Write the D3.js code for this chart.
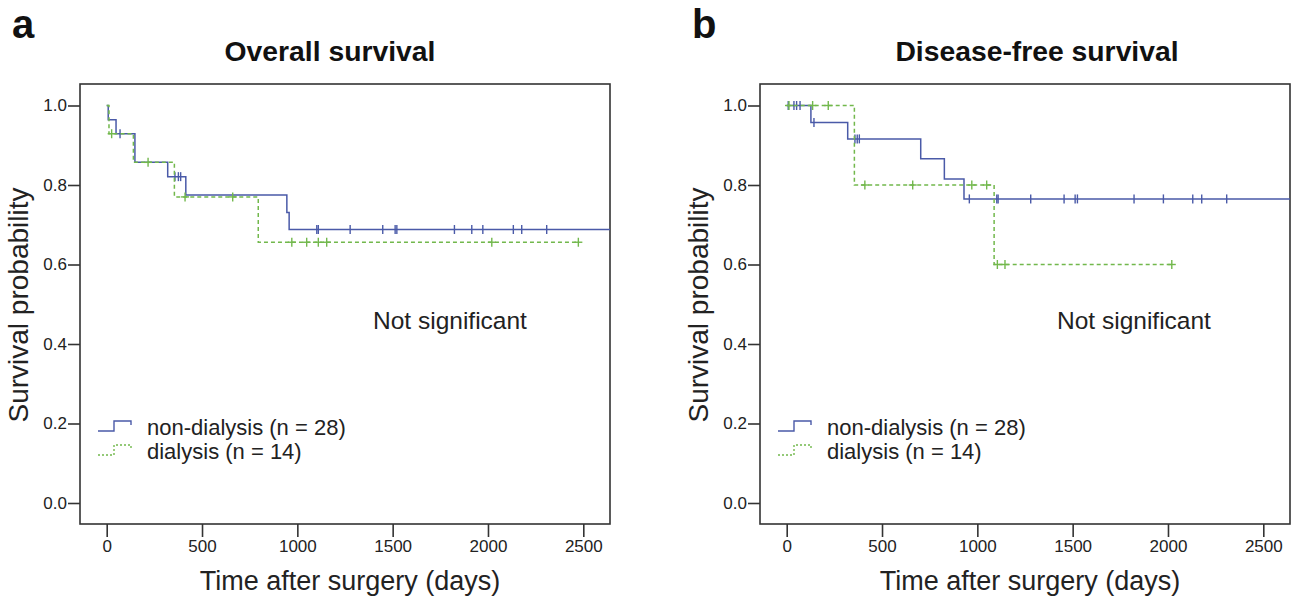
<!DOCTYPE html>
<html>
<head>
<meta charset="utf-8">
<script src="https://cdnjs.cloudflare.com/ajax/libs/d3/7.8.5/d3.min.js"></script>
<style>
  body { margin: 0; background: #fff; }
  svg text { font-family: "Liberation Sans", Arial, sans-serif; fill: #222; }
</style>
</head>
<body>
<svg id="chart" width="1296" height="598"></svg>
<script>
// Overall survival: event times (days) and survival after each step
var osNonTimes = [0, 8, 49, 148, 320, 415, 945, 957];
var osNonSurv  = [1, 0.964, 0.929, 0.857, 0.821, 0.775, 0.731, 0.688];
var osNonCens  = [70, 358, 376, 388, 1102, 1110, 1277, 1448, 1513, 1522, 1824, 1915, 1973, 2133, 2177, 2308];
var osNonLast  = 2700;
var osDiaTimes = [0, 12, 140, 355, 795];
var osDiaSurv  = [1, 0.929, 0.857, 0.770, 0.656];
var osDiaCens  = [26, 217, 411, 661, 971, 1049, 1110, 1154, 2020, 2474];
var osDiaLast  = 2474;

// Disease-free survival
var dfsNonTimes = [0, 127, 320, 703, 827, 930];
var dfsNonSurv  = [1, 0.957, 0.916, 0.866, 0.815, 0.765];
var dfsNonCens  = [8, 38, 52, 70, 143, 358, 370, 381, 958, 1102, 1109, 1280, 1455, 1513, 1525, 1822, 1976, 2130, 2177, 2308];
var dfsNonLast  = 2700;
var dfsDiaTimes = [0, 355, 1088];
var dfsDiaSurv  = [1, 0.80, 0.60];
var dfsDiaCens  = [12, 136, 218, 410, 661, 971, 1049, 1105, 1145, 2020];
var dfsDiaLast  = 2020;

var xTicks = [0, 500, 1000, 1500, 2000, 2500];
var yTicks = [0, 0.2, 0.4, 0.6, 0.8, 1.0];
var groupNames = ['non-dialysis (n = 28)', 'dialysis (n = 14)'];

var blue = '#4a5aa8', green = '#72b84c';
var svg = d3.select('#chart');

var panels = [
  { dx: 0, letter: 'a', title: 'Overall survival', titleX: 330, nsX: 373,
    curves: [
      { t: osNonTimes, s: osNonSurv, c: osNonCens, last: osNonLast, color: blue, dash: null },
      { t: osDiaTimes, s: osDiaSurv, c: osDiaCens, last: osDiaLast, color: green, dash: '4,3' }
    ] },
  { dx: 680, letter: 'b', title: 'Disease-free survival', titleX: 1037, nsX: 1057,
    curves: [
      { t: dfsNonTimes, s: dfsNonSurv, c: dfsNonCens, last: dfsNonLast, color: blue, dash: null },
      { t: dfsDiaTimes, s: dfsDiaSurv, c: dfsDiaCens, last: dfsDiaLast, color: green, dash: '4,3' }
    ] }
];

panels.forEach(function(p, pi) {
  var left = 80 + p.dx, right = 610 + p.dx, top = 84, bottom = 524;
  var x = d3.scaleLinear().domain([0, 2500]).range([106.7 + p.dx, 583.3 + p.dx]);
  var y = d3.scaleLinear().domain([0, 1]).range([503, 105.5]);
  var g = svg.append('g');

  g.append('text').attr('x', 12 + p.dx).attr('y', 38)
    .style('font-size', '40px').style('font-weight', 'bold').style('fill', '#111').text(p.letter);
  g.append('text').attr('x', p.titleX).attr('y', 61).attr('text-anchor', 'middle')
    .style('font-size', '28.3px').style('font-weight', 'bold').style('fill', '#111').text(p.title);

  var clipId = 'clip' + pi;
  svg.append('clipPath').attr('id', clipId).append('rect')
    .attr('x', left).attr('y', top).attr('width', right - left).attr('height', bottom - top);

  // axes
  var ya = g.append('g').attr('transform', 'translate(' + left + ',0)')
    .call(d3.axisLeft(y).tickValues(yTicks).tickFormat(d3.format('.1f')).tickSize(12).tickPadding(1));
  var xa = g.append('g').attr('transform', 'translate(0,' + bottom + ')')
    .call(d3.axisBottom(x).tickValues(xTicks).tickFormat(d3.format('d')).tickSize(13).tickPadding(3));
  [ya, xa].forEach(function(a) {
    a.select('.domain').remove();
    a.selectAll('line').attr('stroke', '#333').attr('stroke-width', 1.6);
    a.selectAll('text').style('font-size', '17px').style('fill', '#222').style('font-family', '"Liberation Sans", Arial, sans-serif');
  });

  g.append('rect').attr('x', left).attr('y', top).attr('width', right - left).attr('height', bottom - top)
    .attr('fill', 'none').attr('stroke', '#333').attr('stroke-width', 1.6);

  g.append('text').attr('x', 350 + p.dx).attr('y', 590).attr('text-anchor', 'middle')
    .style('font-size', '27px').text('Time after surgery (days)');
  g.append('text').attr('transform', 'translate(' + (28 + p.dx) + ',305) rotate(-90)')
    .attr('text-anchor', 'middle').style('font-size', '28px').text('Survival probability');

  g.append('text').attr('x', p.nsX).attr('y', 329).style('font-size', '24.5px').text('Not significant');

  // curves
  var line = d3.line().curve(d3.curveStepAfter).x(function(d) { return x(d[0]); }).y(function(d) { return y(d[1]); });
  var plot = g.append('g').attr('clip-path', 'url(#' + clipId + ')');
  p.curves.forEach(function(c) {
    var pts = c.t.map(function(t, i) { return [t, c.s[i]]; });
    pts.push([c.last, c.s[c.s.length - 1]]);
    plot.append('path').attr('d', line(pts)).attr('fill', 'none')
      .attr('stroke', c.color).attr('stroke-width', 1.5).attr('stroke-dasharray', c.dash);
    c.c.forEach(function(ct) {
      var sv = c.s[d3.bisectRight(c.t, ct) - 1];
      var cx = x(ct), cy = y(sv);
      plot.append('line').attr('x1', cx).attr('x2', cx).attr('y1', cy - 4.5).attr('y2', cy + 4.5)
        .attr('stroke', c.color).attr('stroke-width', 1.4);
      if (c.dash) {
        plot.append('line').attr('x1', cx - 4).attr('x2', cx + 4).attr('y1', cy).attr('y2', cy)
          .attr('stroke', c.color).attr('stroke-width', 1.4);
      }
    });
  });

  // legend
  p.curves.forEach(function(c, i) {
    var ly = 431 + i * 24;
    g.append('path')
      .attr('d', 'M' + (98 + p.dx) + ',' + ly + 'H' + (114 + p.dx) + 'V' + (ly - 10) + 'H' + (131 + p.dx) + 'V' + (ly - 6))
      .attr('fill', 'none').attr('stroke', c.color).attr('stroke-width', 1.4).attr('stroke-dasharray', c.dash ? '2,2' : null);
    g.append('text').attr('x', 147 + p.dx).attr('y', ly + 4).style('font-size', '22px').text(groupNames[i]);
  });
});
</script>
</body>
</html>
